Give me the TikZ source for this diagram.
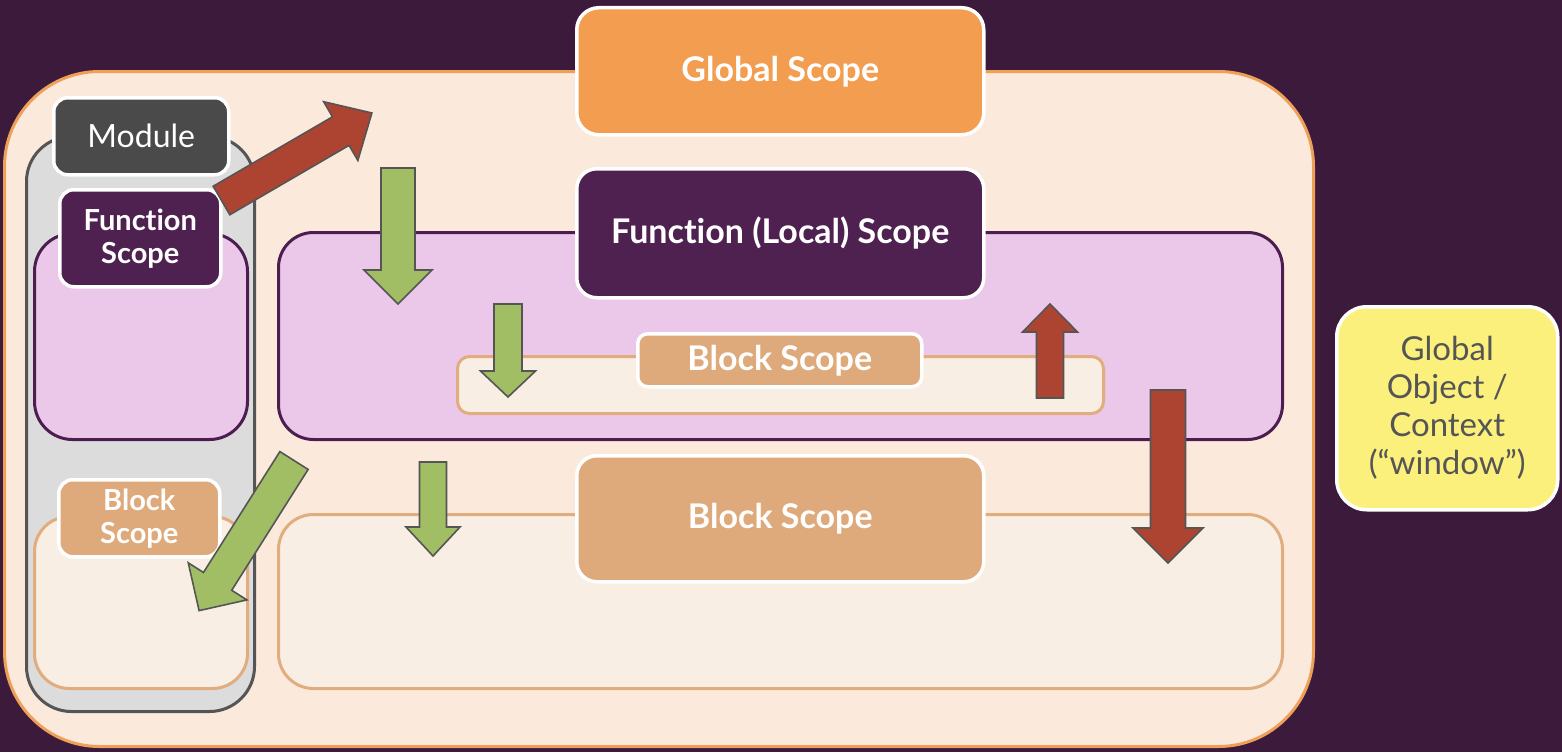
\documentclass[tikz,border=0pt]{standalone}
\usepackage{fontspec}
\setmainfont{Lato}[Ligatures={NoCommon}]
\definecolor{bgc}{HTML}{3C1A3C}
\definecolor{outerfill}{HTML}{FBEADC}
\definecolor{outerdraw}{HTML}{EF9F58}
\definecolor{globalfill}{HTML}{F29D4F}
\definecolor{greyfill}{HTML}{DCDCDC}
\definecolor{greydraw}{HTML}{555555}
\definecolor{modfill}{HTML}{4A4A4A}
\definecolor{pinkfill}{HTML}{EBC8EA}
\definecolor{pinkdraw}{HTML}{4C1D4F}
\definecolor{funcfill}{HTML}{4E2150}
\definecolor{blockfill}{HTML}{F8EEE4}
\definecolor{blockdraw}{HTML}{E1AC7E}
\definecolor{blocklab}{HTML}{DFAA7B}
\definecolor{yellowfill}{HTML}{FCF07D}
\definecolor{yellowtext}{HTML}{555555}
\definecolor{redarr}{HTML}{AD4432}
\definecolor{greenarr}{HTML}{A1BE65}
\definecolor{arrdraw}{HTML}{555555}
\tikzset{
  region/.style={draw, line width=3pt, anchor=north west, inner sep=0pt},
  labelbox/.style={draw=white, line width=3.5pt, anchor=north west, inner sep=0pt, text=white, align=center},
  bigbold/.style={font=\fontsize{34}{40}\bfseries\selectfont},
  midbold/.style={font=\fontsize{29}{33}\bfseries\selectfont},
  arrowstyle/.style={draw=arrdraw, line width=1.6pt, line join=miter},
}
\newcommand\blockarrow[8]{%
  \begin{scope}[shift={(#1,#2)}, rotate=#3]
    \draw[arrowstyle, fill=#8] (0,#5) -- ({#4-#7},#5) -- ({#4-#7},#6) -- (#4,0) -- ({#4-#7},-#6) -- ({#4-#7},-#5) -- (0,-#5) -- cycle;
  \end{scope}}
\begin{document}
\begin{tikzpicture}[x=1pt,y=-1pt]
\useasboundingbox (0,0) rectangle (1562,752);
\fill[bgc] (0,0) rectangle (1562,752);
% outer global region
\node[region, draw=outerdraw, fill=outerfill, rounded corners=95pt, minimum width=1309pt, minimum height=675pt] (outer) at (3,70) {};
% global scope label
\node[labelbox, bigbold, fill=globalfill, rounded corners=22pt, minimum width=407pt, minimum height=127pt] (global) at (575,6) {Global Scope};
% module column
\node[region, draw=greydraw, fill=greyfill, rounded corners=45pt, minimum width=228pt, minimum height=575pt] (modcol) at (25,135) {};
\node[labelbox, font=\fontsize{32}{36}\selectfont, fill=modfill, rounded corners=14pt, minimum width=175pt, minimum height=77pt] (module) at (52,96) {Module};
% left function region
\node[region, draw=pinkdraw, fill=pinkfill, rounded corners=38pt, minimum width=213pt, minimum height=206pt] (lfunc) at (33,232) {};
\node[labelbox, midbold, fill=funcfill, rounded corners=14pt, minimum width=161pt, minimum height=97pt] (lfunclab) at (58,188) {Function\\ Scope};
% left block region
\node[region, draw=blockdraw, fill=blockfill, rounded corners=35pt, minimum width=213pt, minimum height=172pt] (lblock) at (33,515) {};
\node[labelbox, midbold, fill=blocklab, rounded corners=14pt, minimum width=161pt, minimum height=77pt] (lblocklab) at (57,478) {Block\\ Scope};
% main function region
\node[region, draw=pinkdraw, fill=pinkfill, rounded corners=35pt, minimum width=1004pt, minimum height=207pt] (mfunc) at (277,231) {};
\node[labelbox, bigbold, fill=funcfill, rounded corners=20pt, minimum width=407pt, minimum height=129pt] (mfunclab) at (575,167) {Function (Local) Scope};
% inner block region
\node[region, draw=blockdraw, fill=blockfill, rounded corners=12pt, minimum width=646pt, minimum height=57pt] (iblock) at (456,355) {};
\node[labelbox, bigbold, fill=blocklab, rounded corners=10pt, minimum width=284pt, minimum height=53pt] (iblocklab) at (636,332) {Block Scope};
% bottom block region
\node[region, draw=blockdraw, fill=blockfill, rounded corners=35pt, minimum width=1004pt, minimum height=174pt] (bblock) at (277,513) {};
\node[labelbox, bigbold, fill=blocklab, rounded corners=20pt, minimum width=407pt, minimum height=126pt] (bblocklab) at (575,454) {Block Scope};
% global object
\node[labelbox, font=\fontsize{33}{38}\selectfont, fill=yellowfill, text=yellowtext, rounded corners=30pt, minimum width=221pt, minimum height=203pt] (gobj) at (1335,305) {Global\\ Object /\\ Context\\ (“window”)};
% arrows
\blockarrow{221.5}{200.5}{30.2}{174}{16.5}{34}{36}{redarr}
\blockarrow{398}{168}{-90}{136}{17}{34}{34}{greenarr}
\blockarrow{508}{304}{-90}{93}{14}{27.5}{26}{greenarr}
\blockarrow{1050}{398}{90}{94}{13.5}{27.5}{28}{redarr}
\blockarrow{1168}{390}{-90}{173}{17.5}{35}{35}{redarr}
\blockarrow{433}{462}{-90}{94}{13.5}{27}{29}{greenarr}
\blockarrow{294}{460.5}{237.7}{177.6}{16.7}{34.7}{34.6}{greenarr}
\end{tikzpicture}
\end{document}
